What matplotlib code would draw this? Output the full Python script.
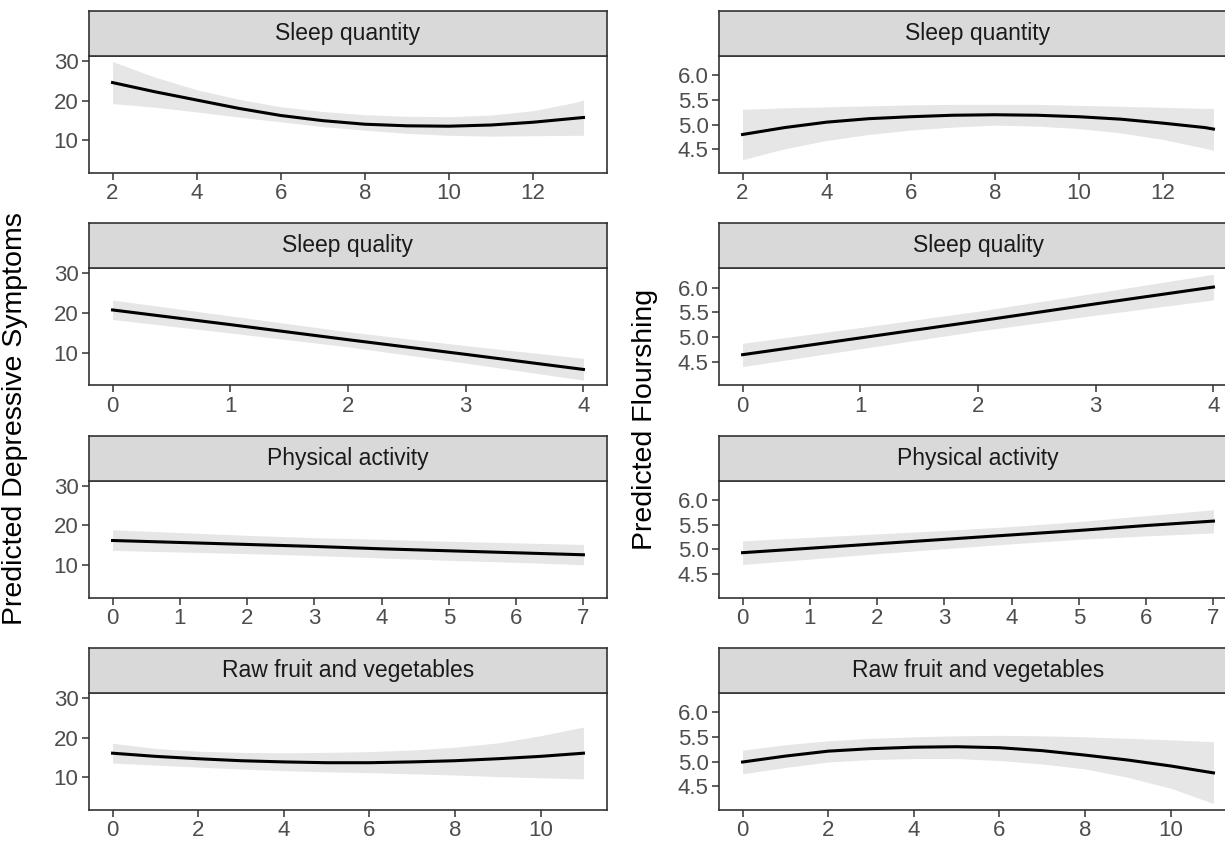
import matplotlib.pyplot as plt
import numpy as np

plt.rcParams['font.family'] = ['Liberation Sans', 'DejaVu Sans']

# ---- data ----
panels = ['Sleep quantity', 'Sleep quality', 'Physical activity', 'Raw fruit and vegetables']

sq_x = [2, 3, 4, 5, 6, 7, 8, 9, 10, 11, 12, 13, 13.2]
sq_dep = [24.6, 22.3, 20.2, 18.1, 16.3, 15.0, 14.1, 13.7, 13.6, 13.9, 14.6, 15.6, 15.8]
sq_dep_hi = [29.9, 26.0, 22.8, 20.4, 18.5, 17.3, 16.5, 16.1, 16.0, 16.4, 17.5, 19.6, 20.2]
sq_dep_lo = [19.3, 18.4, 17.2, 15.9, 14.7, 13.5, 12.6, 11.8, 11.3, 11.1, 11.2, 11.3, 11.3]
sq_flo = [4.80, 4.94, 5.05, 5.12, 5.16, 5.19, 5.20, 5.19, 5.16, 5.11, 5.03, 4.94, 4.91]
sq_flo_hi = [5.31, 5.34, 5.36, 5.38, 5.40, 5.41, 5.41, 5.41, 5.39, 5.37, 5.35, 5.33, 5.33]
sq_flo_lo = [4.29, 4.51, 4.68, 4.80, 4.89, 4.95, 4.99, 4.97, 4.92, 4.83, 4.70, 4.52, 4.48]

ql_x = [0, 1, 2, 3, 4]
ql_dep = [20.8, 17.1, 13.3, 9.6, 5.8]
ql_dep_hi = [23.3, 19.3, 15.3, 11.8, 8.6]
ql_dep_lo = [18.4, 15.0, 11.5, 7.4, 3.1]
ql_flo = [4.64, 4.98, 5.32, 5.67, 6.01]
ql_flo_hi = [4.87, 5.19, 5.52, 5.89, 6.27]
ql_flo_lo = [4.40, 4.76, 5.12, 5.44, 5.75]

pa_x = [0, 1, 2, 3, 4, 5, 6, 7]
pa_dep = [16.2, 15.7, 15.2, 14.7, 14.1, 13.6, 13.1, 12.6]
pa_dep_hi = [18.9, 18.2, 17.5, 16.9, 16.5, 16.0, 15.6, 15.2]
pa_dep_lo = [13.7, 13.3, 12.9, 12.4, 11.8, 11.2, 10.7, 10.1]
pa_flo = [4.93, 5.02, 5.11, 5.20, 5.29, 5.38, 5.48, 5.57]
pa_flo_hi = [5.17, 5.24, 5.31, 5.38, 5.46, 5.56, 5.68, 5.80]
pa_flo_lo = [4.69, 4.80, 4.91, 5.01, 5.11, 5.20, 5.27, 5.33]

fv_x = [0, 1, 2, 3, 4, 5, 6, 7, 8, 9, 10, 11]
fv_dep = [16.1, 15.3, 14.7, 14.2, 13.9, 13.7, 13.7, 13.9, 14.2, 14.7, 15.3, 16.1]
fv_dep_hi = [18.6, 17.3, 16.6, 16.3, 16.2, 16.3, 16.5, 16.9, 17.6, 18.7, 20.5, 22.7]
fv_dep_lo = [13.6, 13.1, 12.6, 12.1, 11.7, 11.4, 11.2, 10.9, 10.6, 10.2, 9.9, 9.6]
fv_flo = [4.99, 5.11, 5.21, 5.26, 5.29, 5.30, 5.28, 5.22, 5.13, 5.03, 4.91, 4.77]
fv_flo_hi = [5.23, 5.34, 5.42, 5.47, 5.50, 5.52, 5.53, 5.52, 5.50, 5.47, 5.44, 5.40]
fv_flo_lo = [4.75, 4.88, 4.99, 5.04, 5.06, 5.06, 5.02, 4.95, 4.85, 4.68, 4.46, 4.15]

xs = [sq_x, ql_x, pa_x, fv_x]
xticks = [[2, 4, 6, 8, 10, 12], [0, 1, 2, 3, 4], [0, 1, 2, 3, 4, 5, 6, 7], [0, 2, 4, 6, 8, 10]]
dep = [(sq_dep, sq_dep_lo, sq_dep_hi), (ql_dep, ql_dep_lo, ql_dep_hi),
       (pa_dep, pa_dep_lo, pa_dep_hi), (fv_dep, fv_dep_lo, fv_dep_hi)]
flo = [(sq_flo, sq_flo_lo, sq_flo_hi), (ql_flo, ql_flo_lo, ql_flo_hi),
       (pa_flo, pa_flo_lo, pa_flo_hi), (fv_flo, fv_flo_lo, fv_flo_hi)]

dep_ticks = [10, 20, 30]
flo_ticks = [4.5, 5.0, 5.5, 6.0]

W, H = 1225, 843
fig = plt.figure(figsize=(W / 100, H / 100), dpi=100)

edge = '#333333'
columns = [
    (89, 607, dep, dep_ticks, ['10', '20', '30'], (1.8, 31.3)),
    (719, 1237, flo, flo_ticks, ['4.5', '5.0', '5.5', '6.0'], (4.02, 6.39)),
]

for x0, x1, series, yt, ytl, ylim in columns:
    for i in range(4):
        st = 11 + 212.3 * i
        sb = st + 45
        pb = sb + 117
        ax = fig.add_axes([x0 / W, 1 - pb / H, (x1 - x0) / W, (pb - sb) / H])
        sax = fig.add_axes([x0 / W, 1 - sb / H, (x1 - x0) / W, (sb - st) / H])

        x = np.array(xs[i])
        y, lo, hi = series[i]
        ax.fill_between(x, lo, hi, color='#E6E6E6', linewidth=0)
        ax.plot(x, y, color='black', linewidth=2.2)

        span = x.max() - x.min()
        ax.set_xlim(x.min() - 0.05 * span, x.max() + 0.05 * span)
        ax.set_ylim(*ylim)
        ax.set_xticks(xticks[i])
        ax.set_yticks(yt)
        ax.set_yticklabels(ytl)
        ax.tick_params(length=5, width=1.1, color=edge, labelcolor='#4D4D4D',
                       labelsize=16, pad=2.5)
        for s in ax.spines.values():
            s.set_color(edge)
            s.set_linewidth(1.2)

        sax.set_facecolor('#D9D9D9')
        sax.set_xticks([])
        sax.set_yticks([])
        for s in sax.spines.values():
            s.set_color(edge)
            s.set_linewidth(1.2)
        sax.text(0.5, 0.5, panels[i], transform=sax.transAxes, ha='center',
                 va='center', fontsize=16.5, color='#1A1A1A')

fig.text(15 / W, 1 - 419 / H, 'Predicted Depressive Symptoms', rotation=90,
         ha='center', va='center', fontsize=20.5)
fig.text(645 / W, 1 - 419 / H, 'Predicted Flourshing', rotation=90,
         ha='center', va='center', fontsize=20.5)

fig.savefig('out.png', dpi=100)
